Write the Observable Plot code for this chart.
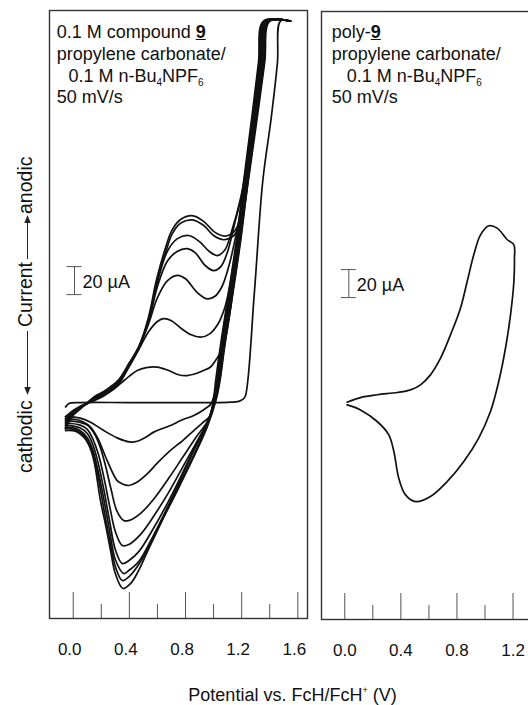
<!DOCTYPE html>
<html>
<head>
<meta charset="utf-8">
<script src="https://cdn.jsdelivr.net/npm/d3@7"></script>
<script src="https://cdn.jsdelivr.net/npm/@observablehq/plot@0.6"></script>
<style>
  html, body { margin: 0; padding: 0; background: #fff; }
  body { width: 528px; height: 705px; overflow: hidden; position: relative;
         font-family: "Liberation Sans", Arial, Helvetica, sans-serif; color: #111; }
  .abs { position: absolute; white-space: nowrap; }
  .note { font-size: 18px; line-height: 18px; }
  .note sub { font-size: 10px; vertical-align: baseline; position: relative; top: 4px; }
  .u9 { font-weight: bold; text-decoration: underline; }
  #left svg, #right svg { max-width: none !important; }
</style>
</head>
<body>
<div id="left" class="abs" style="left:48px; top:9px; width:260px;"></div>
<div id="right" class="abs" style="left:320px; top:10px; width:215px;"></div>

<!-- panel annotations -->
<div class="abs note" style="left:56.7px; top:22.8px;">0.1 M compound <span class="u9">9</span></div>
<div class="abs note" style="left:56.7px; top:44.8px;">propylene carbonate/</div>
<div class="abs note" style="left:68.5px; top:66.8px;">0.1 M n-Bu<sub>4</sub>NPF<sub>6</sub></div>
<div class="abs note" style="left:56.7px; top:88.3px;">50 mV/s</div>

<div class="abs note" style="left:331.7px; top:22.8px;">poly-<span class="u9">9</span></div>
<div class="abs note" style="left:331.7px; top:44.8px;">propylene carbonate/</div>
<div class="abs note" style="left:346.7px; top:66.8px;">0.1 M n-Bu<sub>4</sub>NPF<sub>6</sub></div>
<div class="abs note" style="left:331.7px; top:88.3px;">50 mV/s</div>

<!-- y label -->
<svg class="abs" style="left:0; top:0;" width="45" height="705" font-family="Liberation Sans, Arial, sans-serif" font-size="19.5">
  <text transform="translate(31.5,473) rotate(-90)" fill="#111">cathodic</text>
  <line x1="27.5" x2="27.5" y1="331" y2="389" stroke="#222" stroke-width="1"/>
  <path d="M27.5,395 L24.3,387 L30.7,387 Z" fill="#222"/>
  <text transform="translate(31.5,327) rotate(-90)" fill="#111">Current</text>
  <line x1="27.5" x2="27.5" y1="259" y2="222" stroke="#222" stroke-width="1"/>
  <path d="M27.5,215 L24.3,223 L30.7,223 Z" fill="#222"/>
  <text transform="translate(31.5,214) rotate(-90)" fill="#111">anodic</text>
</svg>

<!-- x title -->
<div class="abs" style="left:292.5px; top:686px; transform:translateX(-50%); font-size:18px; line-height:18px;">Potential vs. FcH/FcH<sup style="font-size:9px; vertical-align:baseline; position:relative; top:-8px;">+</sup> (V)</div>

<script>
// ---------- data (potential E in V vs FcH/FcH+, current I in µA) ----------
const scan1 = [[-0.055,-1],[-0.03,1.5],[0.05,2.1],[0.4,2.1],[0.8,2.1],[1.1,2.3],[1.18,3],[1.21,4.5],[1.227,7],[1.29,80],[1.35,160],[1.41,205],[1.455,245],[1.476,274.5],[1.548,274.5],
  [1.355,274.5],[1.32,245],[1.275,208],[1.215,161],[1.165,120],[1.12,89],[1.075,60],[1.045,40],[1.015,18],[1.0,6],[0.98,1],
  [0.93,-3],[0.859,-7.1],[0.77,-10.5],[0.693,-14.3],[0.62,-17],[0.574,-19],[0.51,-23],[0.456,-25.5],[0.40,-26],[0.313,-23.1],[0.218,-17.9],[0.123,-11.9],[0.05,-9],[-0.055,-8]];
const scan2 = [[-0.055,-8],[0.0,-3.5],[0.05,-0.5],[0.1,1.5],[0.16,4],[0.22,7],[0.28,11],[0.34,16],[0.40,21],[0.456,25],[0.52,27],[0.598,27.4],[0.68,25],[0.75,22],[0.812,21.4],[0.88,23],[0.94,25.5],[0.978,27.5],[1.026,34],[1.07,42],[1.11,62],[1.15,92],[1.19,122],[1.225,145],[1.275,180],[1.325,216],[1.365,246],[1.40,274.5],[1.548,274.5],
  [1.36,274.5],[1.325,245],[1.28,208],[1.22,161],[1.17,120],[1.125,89],[1.08,60],[1.05,40],[1.025,18],[1.005,5],[0.978,-7.1],[0.92,-12.5],[0.859,-17.9],[0.78,-25],[0.693,-32.1],[0.60,-41],[0.527,-48.8],[0.45,-55],[0.396,-57.1],[0.35,-56],[0.313,-53.6],[0.242,-39.3],[0.171,-22.6],[0.12,-15],[0.075,-11.9],[0.02,-10],[-0.055,-9.5]];
const scan3 = [[-0.055,-9.5],[0.0,-4],[0.05,-1],[0.1,1.5],[0.16,4.5],[0.22,8],[0.28,12],[0.325,15.5],[0.40,28],[0.467,40],[0.539,53],[0.60,60],[0.645,62],[0.70,60.5],[0.77,55],[0.84,50.5],[0.907,48.8],[0.97,51],[1.03,58],[1.08,70],[1.12,88],[1.16,112],[1.22,145],[1.27,180],[1.32,216],[1.36,246],[1.395,274.5],[1.548,274.5],
  [1.365,274.5],[1.33,245],[1.285,208],[1.225,161],[1.175,120],[1.13,89],[1.085,60],[1.055,40],[1.025,18],[1.0,5],[0.97,-9],[0.88,-22],[0.78,-37],[0.68,-52],[0.58,-66],[0.48,-77],[0.40,-82],[0.36,-82.1],[0.31,-75],[0.27,-60],[0.23,-43],[0.19,-29],[0.15,-20],[0.10,-14],[0.05,-12],[-0.055,-11]];
const scan4 = [[-0.055,-11],[0.0,-5],[0.05,-1.5],[0.1,1.5],[0.16,5],[0.22,8.5],[0.28,12.5],[0.325,16],[0.40,29],[0.467,41],[0.539,59],[0.60,77],[0.67,89],[0.741,93],[0.80,90.5],[0.88,81],[0.954,76.2],[1.01,78],[1.06,85],[1.11,100],[1.16,122],[1.21,148],[1.265,182],[1.315,217],[1.355,246],[1.39,274.5],[1.548,274.5],
  [1.37,274.5],[1.335,245],[1.29,208],[1.23,161],[1.18,120],[1.135,89],[1.09,60],[1.06,40],[1.03,18],[1.005,5],[0.965,-10],[0.88,-26],[0.78,-44],[0.68,-62],[0.58,-78],[0.48,-92],[0.40,-99],[0.35,-100],[0.30,-90],[0.26,-72],[0.22,-52],[0.18,-35],[0.14,-24],[0.10,-17],[0.05,-14],[-0.055,-12.5]];
const scan5 = [[-0.055,-12.5],[0.0,-5.5],[0.05,-1.5],[0.1,1.5],[0.16,5.5],[0.22,9],[0.28,13],[0.325,16.5],[0.40,29.5],[0.467,41.5],[0.539,61],[0.60,85],[0.67,103],[0.74,110],[0.812,112],[0.87,109],[0.94,100],[1.0,96.4],[1.05,99],[1.10,110],[1.15,130],[1.20,150],[1.26,182],[1.31,217],[1.35,246],[1.385,274.5],[1.548,274.5],
  [1.375,274.5],[1.34,245],[1.295,208],[1.235,161],[1.185,120],[1.14,89],[1.095,60],[1.065,40],[1.035,18],[1.01,5],[0.96,-11],[0.87,-29],[0.77,-50],[0.67,-70],[0.57,-88],[0.47,-104],[0.40,-110.5],[0.35,-112.9],[0.30,-103],[0.26,-83],[0.22,-61],[0.18,-42],[0.14,-28],[0.10,-20],[0.05,-16],[-0.055,-14]];
const scan6 = [[-0.055,-14],[0.0,-6],[0.05,-2],[0.1,1.5],[0.16,6],[0.22,9.5],[0.28,13.5],[0.325,17],[0.40,30],[0.467,41.6],[0.539,61.5],[0.60,88],[0.67,110],[0.74,119],[0.823,121.4],[0.90,117],[0.97,110],[1.026,107.1],[1.08,111],[1.13,125],[1.19,147],[1.255,182],[1.305,217],[1.345,246],[1.38,274.5],[1.548,274.5],
  [1.38,274.5],[1.345,245],[1.30,208],[1.24,161],[1.19,120],[1.145,89],[1.10,60],[1.07,40],[1.04,18],[1.015,5],[0.958,-12],[0.865,-31],[0.76,-54],[0.66,-75],[0.56,-95],[0.47,-111],[0.40,-117.5],[0.36,-120],[0.30,-110],[0.26,-90],[0.22,-68],[0.18,-48],[0.14,-32],[0.10,-23],[0.05,-18],[0.0,-16],[-0.055,-15.5]];
const scan7 = [[-0.055,-15.5],[0.0,-6.5],[0.05,-2],[0.1,2],[0.16,6.5],[0.218,9.5],[0.28,14],[0.325,17.9],[0.40,30],[0.467,41.6],[0.539,61.9],[0.598,89.3],[0.67,113.1],[0.705,122.6],[0.764,130.2],[0.848,132.6],[0.93,128.6],[1.0,121.4],[1.073,118.4],[1.144,121.4],[1.168,125],[1.204,136.9],[1.25,172],[1.30,212],[1.34,245],[1.375,274.5],[1.548,274.5],
  [1.383,274.5],[1.348,245],[1.303,208],[1.243,161],[1.193,120],[1.148,89],[1.103,60],[1.073,40],[1.043,18],[1.018,5],[0.955,-14],[0.86,-35],[0.76,-56],[0.66,-76],[0.56,-97],[0.47,-113],[0.40,-122],[0.35,-125],[0.30,-115],[0.26,-96],[0.22,-75],[0.185,-55],[0.145,-36],[0.10,-25],[0.06,-20],[0.0,-17],[-0.055,-16.5]];
const scan8 = [[-0.055,-16.5],[0.0,-7],[0.05,-2.5],[0.1,2],[0.16,7],[0.218,10],[0.28,14.5],[0.325,18.5],[0.40,30.5],[0.467,42],[0.535,62.5],[0.595,90.5],[0.665,115],[0.70,124.5],[0.76,132.5],[0.855,135.5],[0.935,131],[1.005,124],[1.08,121],[1.145,124],[1.17,128],[1.205,140],[1.25,175],[1.30,214],[1.34,247],[1.373,274.5],[1.548,274.5],
  [1.386,274.5],[1.351,245],[1.306,208],[1.246,161],[1.196,120],[1.151,89],[1.106,60],[1.076,40],[1.046,18],[1.02,5],[0.954,-15.5],[0.812,-46.4],[0.72,-65],[0.622,-84.5],[0.53,-104],[0.46,-119],[0.41,-127],[0.355,-130.7],[0.30,-120],[0.266,-103.6],[0.23,-85],[0.194,-67.9],[0.147,-39.3],[0.11,-28],[0.075,-22.6],[0.02,-18.5],[-0.055,-17.9]];

const poly9 = [[0.017,3.1],[0.112,6.4],[0.231,8.4],[0.374,10],[0.469,11.9],[0.540,15.5],[0.611,22.6],[0.683,34.5],[0.754,51.2],[0.825,70.2],[0.873,89.3],[0.920,108.4],[0.968,122.6],[1.027,129.1],[1.087,127.4],[1.159,119.1],[1.206,115.5],
  [1.210,105.9],[1.206,89.3],[1.182,65.5],[1.146,41.6],[1.098,17.9],[1.039,-3.6],[0.955,-22.6],[0.849,-39.3],[0.730,-53.6],[0.611,-64.3],[0.504,-67.9],[0.433,-63.1],[0.385,-51.2],[0.350,-32.1],[0.314,-20.2],[0.231,-10.7],[0.112,-2.4],[0.017,1.2]];

const leftMajorTicks = [0.0, 0.4, 0.8, 1.2, 1.6];
const leftMinorTicks = [0.2, 0.6, 1.0, 1.4];
const rightMajorTicks = [0.0, 0.4, 0.8, 1.2];
const rightMinorTicks = [0.2, 0.6, 1.0];
const scaleBarAmount = 20;            // µA
const scaleBarLabel = "20 µA";

// ---------- layout ----------
const yDomain = [-152.1, 282.1];
const pxPerUA = 608 / (yDomain[1] - yDomain[0]);
const font = "Liberation Sans, Arial, Helvetica, sans-serif";
const toRows = (scans) => scans.flatMap((pts, i) => pts.map(([E, I]) => ({E, I, scan: i + 1})));

function panel({width, xDomain, rows, major, minor, labelDx, bar}) {
  const yMin = yDomain[0];
  return Plot.plot({
    width, height: 654,
    marginLeft: 1, marginRight: 1, marginTop: 1, marginBottom: 45,
    x: {domain: xDomain},
    y: {domain: yDomain, axis: null},
    style: {fontFamily: font, fontSize: "17px", background: "transparent", color: "#111", overflow: "visible", maxWidth: "none"},
    marks: [
      Plot.ruleX(major, {y1: yMin, y2: yMin + 26 / pxPerUA, stroke: "#555", strokeWidth: 1}),
      Plot.ruleX(minor, {y1: yMin, y2: yMin + 14 / pxPerUA, stroke: "#555", strokeWidth: 1}),
      Plot.axisX(major, {anchor: "bottom", tickSize: 0, tickPadding: 24, tickFormat: d3.format(".1f"), dx: labelDx, label: null, fill: "#111"}),
      Plot.line(rows, {x: "E", y: "I", z: "scan", curve: "catmull-rom", stroke: "#111", strokeWidth: 1.7}),
      Plot.ruleX([bar.E], {y1: bar.lo, y2: bar.lo + scaleBarAmount, stroke: "#555", strokeWidth: 1}),
      Plot.ruleY([bar.lo, bar.lo + scaleBarAmount], {x1: bar.E - 0.053, x2: bar.E + 0.053, stroke: "#555", strokeWidth: 1}),
      Plot.text([scaleBarLabel], {x: bar.E, y: bar.lo + scaleBarAmount / 2, text: d => d, textAnchor: "start", dx: 8, dy: 1.5, fontSize: 18, fill: "#111"}),
      Plot.frame({stroke: "#333", strokeWidth: 1.4})
    ]
  });
}

document.getElementById("left").append(panel({
  width: 260, xDomain: [-0.169, 1.669],
  rows: toRows([scan1, scan2, scan3, scan4, scan5, scan6, scan7, scan8]),
  major: leftMajorTicks, minor: leftMinorTicks, labelDx: -3.5,
  bar: {E: 0.009, lo: 79.2}
}));

document.getElementById("right").append(panel({
  width: 215, xDomain: [-0.166, 1.353],
  rows: toRows([poly9]),
  major: rightMajorTicks, minor: rightMinorTicks, labelDx: 0,
  bar: {E: 0.029, lo: 77.8}
}));
</script>
</body>
</html>
